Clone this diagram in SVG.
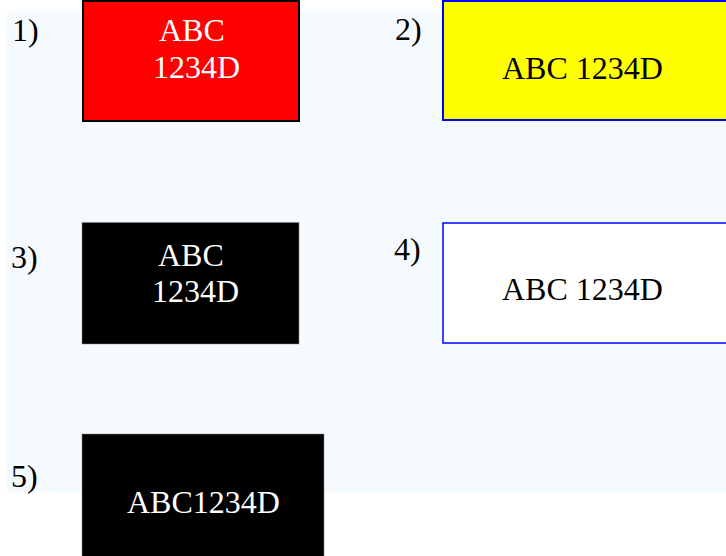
<svg xmlns="http://www.w3.org/2000/svg" width="726" height="556" viewBox="0 0 726 556">
  <style>
    text { font-family: "Liberation Serif", "Times New Roman", serif; font-size: 32px; }
    .lbl { fill: #000; }
    .wt { fill: #fff; }
    .bt { fill: #000; }
  </style>
  <!-- panel background -->
  <rect x="7" y="11" width="719" height="481" fill="#f5faff"/>

  <g id="item1">
    <text class="lbl" x="12" y="41">1)</text>
    <rect x="83" y="1" width="216" height="120" fill="#ff0000" stroke="#000" stroke-width="2"/>
    <text class="wt" x="159" y="41">ABC</text>
    <text class="wt" x="153" y="78">1234D</text>
  </g>

  <g id="item2">
    <text class="lbl" x="395" y="40">2)</text>
    <rect x="443" y="1" width="300" height="119" fill="#ffff00" stroke="#0000ff" stroke-width="2"/>
    <text class="bt" x="502" y="79">ABC 1234D</text>
  </g>

  <g id="item3">
    <text class="lbl" x="11" y="268">3)</text>
    <rect x="82" y="222.5" width="217" height="121.5" fill="#000" stroke="#888" stroke-width="0.5"/>
    <text class="wt" x="158" y="266">ABC</text>
    <text class="wt" x="152" y="302">1234D</text>
  </g>

  <g id="item4">
    <text class="lbl" x="394" y="260">4)</text>
    <rect x="443" y="223" width="300" height="120" fill="#ffffff" stroke="#0000ff" stroke-width="1.5"/>
    <text class="bt" x="502" y="300">ABC 1234D</text>
  </g>

  <g id="item5">
    <text class="lbl" x="11" y="487">5)</text>
    <rect x="82" y="434" width="242" height="130" fill="#000" stroke="#888" stroke-width="0.5"/>
    <text class="wt" x="127" y="513">ABC1234D</text>
  </g>

  <g id="connectors"/>
</svg>
